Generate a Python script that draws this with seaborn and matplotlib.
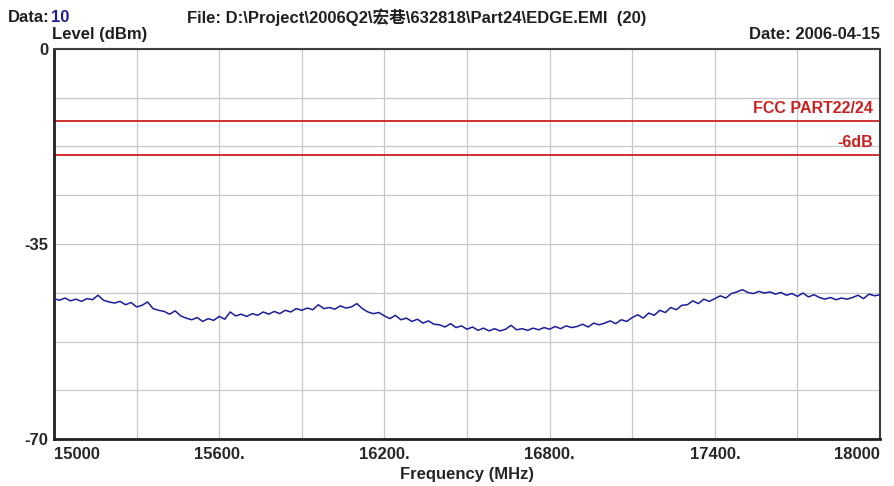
import numpy as np
import pandas as pd
import seaborn as sns
import matplotlib.pyplot as plt

# sweep 15000..18000 MHz, 20 MHz step
freq_start, freq_stop, freq_step = 15000, 18000, 20
level = [
    -44.8, -45.1, -44.7, -45.2, -44.9,
    -45.3, -44.8, -45.0, -44.2, -45.1,
    -45.4, -45.6, -45.3, -45.9, -45.5,
    -46.3, -46.0, -45.4, -46.6, -46.9,
    -47.1, -47.6, -47.0, -47.9, -48.3,
    -48.6, -48.2, -48.9, -48.4, -48.7,
    -48.0, -48.5, -47.2, -47.9, -47.6,
    -48.0, -47.5, -47.8, -47.2, -47.6,
    -47.1, -47.5, -46.9, -47.2, -46.6,
    -46.9, -46.5, -46.8, -45.9, -46.6,
    -46.4, -46.7, -46.1, -46.5, -46.3,
    -45.7, -46.6, -47.2, -47.5, -47.3,
    -47.9, -48.4, -47.8, -48.6, -48.3,
    -48.9, -48.5, -49.2, -48.8, -49.4,
    -49.5, -49.9, -49.3, -50.0, -49.7,
    -50.3, -49.9, -50.5, -50.1, -50.6,
    -50.2, -50.6, -50.3, -49.6, -50.4,
    -50.2, -50.5, -50.1, -50.4, -50.0,
    -50.3, -49.8, -50.2, -49.7, -50.0,
    -49.8, -49.4, -49.9, -49.2, -49.5,
    -49.2, -48.8, -49.3, -48.6, -48.9,
    -48.2, -47.7, -48.3, -47.4, -47.8,
    -46.9, -47.3, -46.4, -46.8, -46.0,
    -45.9, -45.2, -45.7, -44.9, -45.3,
    -44.8, -44.3, -44.7, -43.9, -43.6,
    -43.2, -43.7, -43.9, -43.5, -43.8,
    -43.6, -44.0, -43.7, -44.2, -43.9,
    -44.4, -43.8, -44.5, -44.1, -44.6,
    -44.9, -44.6, -45.0, -44.7, -44.9,
    -44.6, -44.2, -44.8, -44.0, -44.3,
    -44.1,
]
freq = np.arange(freq_start, freq_stop + 1, freq_step)

limit_names = ['FCC PART22/24', '-6dB']
limit_levels = [-13, -19]

x_tick_values = [15000, 15600, 16200, 16800, 17400, 18000]
x_tick_labels = ['15000', '15600.', '16200.', '16800.', '17400.', '18000']
y_tick_values = [0, -35, -70]
y_tick_labels = ['0', '-35', '-70']

df = pd.DataFrame({'freq': freq, 'level': level})

sns.set_style('white')
plt.rcParams['font.family'] = ['Liberation Sans', 'Noto Sans CJK SC', 'DejaVu Sans']
plt.rcParams['font.weight'] = 'bold'

fig = plt.figure(figsize=(8.95, 4.86), dpi=100)
ax = fig.add_axes([0.0603, 0.0967, 0.9230, 0.8025])

# grid
for gx in np.arange(15000, 18001, 300):
    ax.axvline(gx, color='#c8c8c8', lw=0.9, zorder=0)
for gy in np.arange(0, -70.1, -8.75):
    ax.axhline(gy, color='#c8c8c8', lw=0.9, zorder=0)

# limit lines
for name, lv in zip(limit_names, limit_levels):
    ax.axhline(lv, color='#cc2020', lw=1.3, zorder=2)
    ax.text(17975, lv + 0.9, name, color='#cc2020', fontsize=11.5,
            fontweight='bold', ha='right', va='bottom')

sns.lineplot(data=df, x='freq', y='level', ax=ax, color='#1c1c9c', lw=1.1, zorder=3)

ax.set_xlim(15000, 18000)
ax.set_ylim(-70, 0)
ax.set_xticks(x_tick_values)
ax.set_xticklabels(x_tick_labels, fontsize=12, fontweight='bold')
ax.set_yticks(y_tick_values)
ax.set_yticklabels(y_tick_labels, fontsize=12, fontweight='bold')
ax.tick_params(axis='x', length=0, pad=6)
ax.tick_params(axis='y', length=0, pad=4)
xlabs = ax.get_xticklabels()
xlabs[0].set_ha('left')
xlabs[-1].set_ha('right')
ax.set_xlabel('Frequency (MHz)', fontsize=12, fontweight='bold', labelpad=3)
ax.set_ylabel('')

for side in ['left', 'bottom']:
    ax.spines[side].set_color('#202020')
    ax.spines[side].set_linewidth(2)
for side in ['top', 'right']:
    ax.spines[side].set_color('#404040')
    ax.spines[side].set_linewidth(1.5)

fig.text(0.009, 0.965, 'Data:', fontsize=12, fontweight='bold', color='#202020', va='center')
fig.text(0.057, 0.965, '10', fontsize=12, fontweight='bold', color='#1c1c8c', va='center')
fig.text(0.209, 0.965, 'File: D:\\Project\\2006Q2\\宏巷\\632818\\Part24\\EDGE.EMI  (20)',
         fontsize=12, fontweight='bold', color='#202020', va='center')
fig.text(0.058, 0.93, 'Level (dBm)', fontsize=12, fontweight='bold', color='#202020', va='center')
fig.text(0.983, 0.93, 'Date: 2006-04-15', fontsize=12, fontweight='bold', color='#202020',
         va='center', ha='right')

fig.savefig('out.png', dpi=100)
